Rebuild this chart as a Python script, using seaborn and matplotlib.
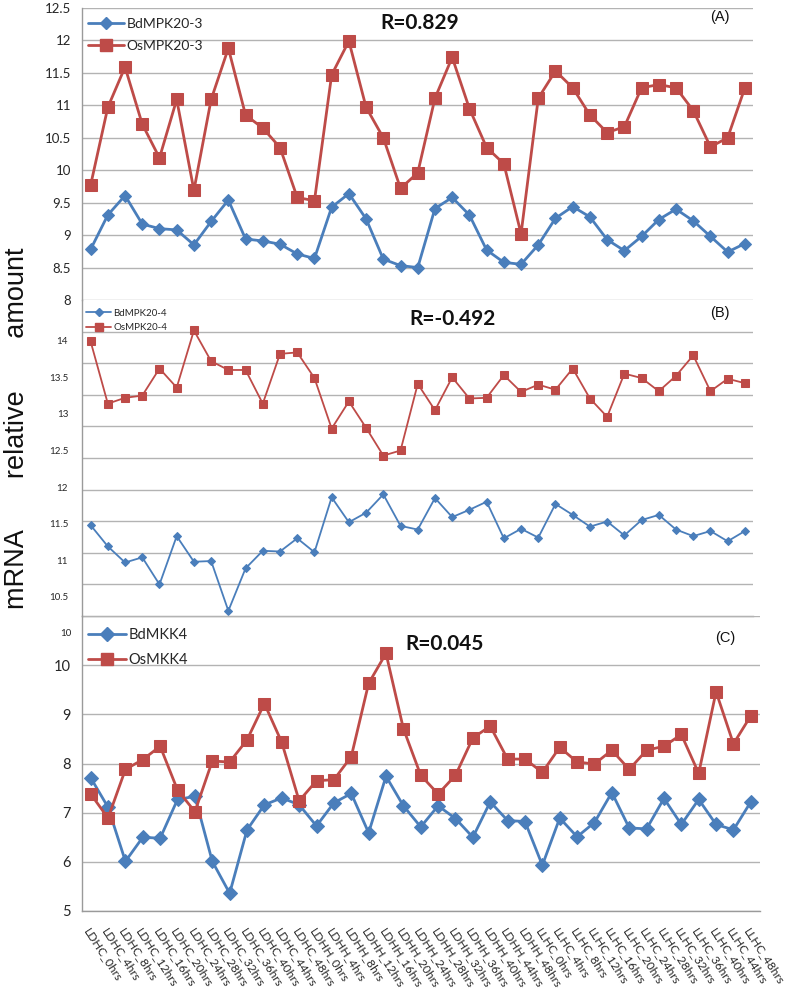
import numpy as np
import pandas as pd
import matplotlib
matplotlib.use("Agg")
import matplotlib.pyplot as plt
import seaborn as sns
from matplotlib.lines import Line2D
from matplotlib.ticker import FixedLocator
import matplotlib.transforms as mtransforms

# ---------------- data ----------------
conditions = ["LDHC", "LDHH", "LLHC"]
hours = ["0", "4", "8", "12", "16", "20", "24", "28", "32", "36", "40", "44", "48"]
categories = [f"{c}_{h}hrs" for c in conditions for h in hours]

bd_mpk20_3 = [8.78, 9.31, 9.61, 9.17, 9.10, 9.08, 8.85, 9.21, 9.54, 8.94, 8.91, 8.86, 8.71,
              8.64, 9.43, 9.64, 9.25, 8.63, 8.53, 8.50, 9.41, 9.58, 9.31, 8.77, 8.58, 8.55,
              8.85, 9.26, 9.44, 9.28, 8.93, 8.76, 8.98, 9.24, 9.40, 9.22, 8.98, 8.74, 8.87]
os_mpk20_3 = [9.77, 10.97, 11.59, 10.71, 10.19, 11.09, 9.69, 11.09, 11.88, 10.85, 10.65, 10.35, 9.58,
              9.53, 11.47, 11.99, 10.97, 10.50, 9.72, 9.96, 11.11, 11.74, 10.95, 10.35, 10.10, 9.02,
              11.11, 11.53, 11.27, 10.85, 10.58, 10.67, 11.27, 11.32, 11.27, 10.92, 10.36, 10.50, 11.27]

bd_mpk20_4 = [11.48, 11.19, 10.97, 11.04, 10.67, 11.33, 10.98, 10.99, 10.31, 10.89, 11.13, 11.12, 11.30,
              11.11, 11.86, 11.52, 11.65, 11.90, 11.47, 11.42, 11.85, 11.59, 11.69, 11.80, 11.30, 11.43,
              11.31, 11.77, 11.62, 11.46, 11.53, 11.34, 11.55, 11.62, 11.42, 11.33, 11.40, 11.26, 11.40]
os_mpk20_4 = [13.99, 13.14, 13.22, 13.25, 13.62, 13.36, 14.14, 13.72, 13.60, 13.60, 13.14, 13.82, 13.84,
              13.49, 12.80, 13.17, 12.81, 12.43, 12.50, 13.41, 13.05, 13.50, 13.21, 13.22, 13.53, 13.30,
              13.40, 13.33, 13.62, 13.21, 12.96, 13.55, 13.49, 13.31, 13.52, 13.80, 13.31, 13.48, 13.42]

bd_mkk4 = [7.71, 7.11, 6.01, 6.50, 6.48, 7.27, 7.33, 6.01, 5.36, 6.65, 7.16, 7.30, 7.16,
           6.73, 7.20, 7.39, 6.59, 7.74, 7.14, 6.71, 7.14, 6.88, 6.50, 7.22, 6.84, 6.82,
           5.93, 6.89, 6.51, 6.80, 7.41, 6.69, 6.67, 7.29, 6.76, 7.27, 6.76, 6.65, 7.22]
os_mkk4 = [7.38, 6.89, 7.88, 8.08, 8.35, 7.46, 7.02, 8.05, 8.03, 8.48, 9.22, 8.43, 7.24,
           7.65, 7.67, 8.14, 9.63, 10.24, 8.71, 7.76, 7.38, 7.76, 8.52, 8.76, 8.09, 8.09,
           7.82, 8.33, 8.03, 7.99, 8.27, 7.88, 8.27, 8.35, 8.59, 7.80, 9.46, 8.40, 8.97]

panel_A_labels = ["BdMPK20-3", "OsMPK20-3"]
panel_B_labels = ["BdMPK20-4", "OsMPK20-4"]
panel_C_labels = ["BdMKK4", "OsMKK4"]
r_texts = ["R=0.829", "R=-0.492", "R=0.045"]
panel_tags = ["(A)", "(B)", "(C)"]

# ---------------- style ----------------
sns.set_theme(style="white")
plt.rcParams["font.family"] = ["Lato", "DejaVu Sans"]

BLUE = "#4A7EBB"
RED = "#BE4B48"
GRID = "#B3B3B3"

W, H = 787, 990
fig = plt.figure(figsize=(W / 100, H / 100), dpi=100)


def add_axes_px(left, top, right, bottom):
    return fig.add_axes([left / W, 1 - bottom / H, (right - left) / W, (bottom - top) / H])


axA = add_axes_px(82, 8, 753.5, 300)
axB = add_axes_px(82, 300, 753.5, 616)
axC = add_axes_px(82, 616, 759.5, 911)

x = np.arange(len(categories))


def draw(ax, bd, os_, ms_d, ms_s, lw):
    df = pd.DataFrame({"x": x, "Bd": bd, "Os": os_})
    sns.lineplot(data=df, x="x", y="Bd", ax=ax, color=BLUE, marker="D", markersize=ms_d,
                 markeredgecolor=BLUE, linewidth=lw, legend=False)
    sns.lineplot(data=df, x="x", y="Os", ax=ax, color=RED, marker="s", markersize=ms_s,
                 markeredgecolor=RED, linewidth=lw, legend=False)
    ax.set_xlim(-0.5, len(categories) - 0.5)
    ax.set_xlabel("")
    ax.set_ylabel("")
    ax.set_facecolor("none")
    for s in ["top", "right"]:
        ax.spines[s].set_visible(False)
    for s in ["left", "bottom"]:
        ax.spines[s].set_color("#9A9A9A")
        ax.spines[s].set_linewidth(1.0)
    ax.tick_params(axis="both", length=0)
    ax.set_axisbelow(True)


def legend(ax, labels, ms_d, ms_s, lw, fs, loc_y, spacing):
    handles = [Line2D([], [], color=BLUE, marker="D", markersize=ms_d, linewidth=lw),
               Line2D([], [], color=RED, marker="s", markersize=ms_s, linewidth=lw)]
    ax.legend(handles, labels, loc="upper left", bbox_to_anchor=(0.0, loc_y), frameon=False,
              handlelength=2.6, handletextpad=0.2, labelspacing=spacing,
              borderaxespad=0.0, prop={"family": ["Lato"], "size": fs})


# Panel A
draw(axA, bd_mpk20_3, os_mpk20_3, 6.5, 8.5, 2.0)
axA.set_ylim(8, 12.5)
axA.set_yticks(np.arange(8, 12.51, 0.5))
axA.set_yticklabels(["8", "8.5", "9", "9.5", "10", "10.5", "11", "11.5", "12", "12.5"])
axA.yaxis.grid(True, color=GRID, linewidth=1.0)
axA.set_xticks(x)
axA.set_xticklabels([])
axA.tick_params(axis="y", labelsize=9.5, pad=8)
axA.spines["bottom"].set_visible(False)
legend(axA, panel_A_labels, 6.5, 8.5, 2.0, 10, 0.985, 0.75)

# Panel B  (tick labels and grid lines are spaced differently in the original)
draw(axB, bd_mpk20_4, os_mpk20_4, 4.2, 5.5, 1.3)
yb_lo, yb_hi = 10.239, 14.556
axB.set_ylim(yb_lo, yb_hi)
axB.set_yticks([10.5, 11, 11.5, 12, 12.5, 13, 13.5, 14])
axB.set_yticklabels(["10.5", "11", "11.5", "12", "12.5", "13", "13.5", "14"])
axB.yaxis.set_minor_locator(FixedLocator(list(np.linspace(yb_lo, yb_hi, 11)[1:-1])))
axB.yaxis.grid(False, which="major")
axB.yaxis.grid(True, which="minor", color=GRID, linewidth=1.0)
axB.tick_params(axis="y", which="minor", length=0)
axB.set_xticks(x)
axB.set_xticklabels([])
axB.tick_params(axis="y", labelsize=7, pad=10)
legend(axB, panel_B_labels, 4.2, 5.5, 1.3, 7, 0.985, 0.55)

# Panel C
draw(axC, bd_mkk4, os_mkk4, 7, 9, 2.0)
axC.set_ylim(5, 11)
axC.set_yticks([5, 6, 7, 8, 9, 10, 11])
axC.set_yticklabels(["5", "6", "7", "8", "9", "10", ""])
axC.yaxis.grid(True, color=GRID, linewidth=1.0)
axC.tick_params(axis="y", labelsize=10.5, pad=8)
axC.set_xticks(x)
axC.set_xticklabels(categories, rotation=-57, ha="left", va="center",
                    rotation_mode="anchor", fontsize=8.6)
axC.tick_params(axis="x", pad=13)
shift = mtransforms.ScaledTranslation(-4 / 100, 0, fig.dpi_scale_trans)
for lbl in axC.get_xticklabels():
    lbl.set_transform(lbl.get_transform() + shift)
trans = mtransforms.blended_transform_factory(axC.transAxes, axC.transData)
axC.text(-0.016, 10.65, "10", transform=trans, ha="right", va="center", fontsize=7,
         color="#222222")
legend(axC, panel_C_labels, 7, 9, 2.0, 10.5, 0.98, 0.8)

# R values and panel tags
for ax, rt, tag, rx, ry in [(axA, r_texts[0], panel_tags[0], 0.445, 0.95),
                            (axB, r_texts[1], panel_tags[1], 0.488, 0.94),
                            (axC, r_texts[2], panel_tags[2], 0.477, 0.905)]:
    ax.text(rx, ry, rt, transform=ax.transAxes, fontsize=15, fontweight="bold",
            ha="left", va="center", color="#111111")
    ax.text(0.935, ry + 0.02, tag, transform=ax.transAxes, fontsize=10.5, ha="left",
            va="center", color="#111111", family=["Liberation Sans"])

fig.text(0.022, 0.567, "mRNA       relative       amount", rotation=90, ha="center",
         va="center", fontsize=19.5, family=["Liberation Sans"], color="#111111")

fig.savefig("out.png", dpi=100, facecolor="white")
